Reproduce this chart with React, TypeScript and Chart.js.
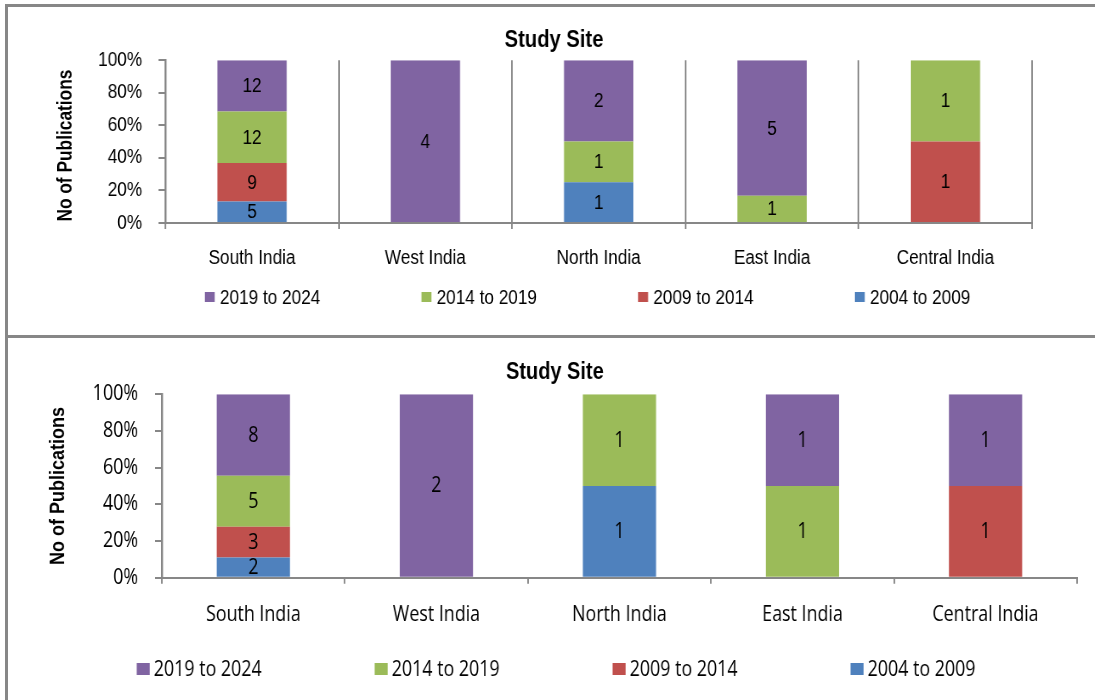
import React, { useEffect, useRef } from 'react';
import { Chart, registerables } from 'chart.js';

Chart.register(...registerables);

// Categories and series
const regions = ['South India', 'West India', 'North India', 'East India', 'Central India'];
const periods = ['2004 to 2009', '2009 to 2014', '2014 to 2019', '2019 to 2024'];
const periodColors = ['#4F81BD', '#C0504D', '#9BBB59', '#8064A2'];
const percentTicks = [0, 20, 40, 60, 80, 100];
const chartTitle = 'Study Site';
const axisTitle = 'No of Publications';

// Upper panel: publication counts per region
const upper2004to2009 = [5, 0, 1, 0, 0];
const upper2009to2014 = [9, 0, 0, 0, 1];
const upper2014to2019 = [12, 0, 1, 1, 1];
const upper2019to2024 = [12, 4, 2, 5, 0];

// Lower panel: publication counts per region
const lower2004to2009 = [2, 0, 1, 0, 0];
const lower2009to2014 = [3, 0, 0, 0, 1];
const lower2014to2019 = [5, 0, 1, 1, 0];
const lower2019to2024 = [8, 2, 0, 1, 1];

type PanelStyle = {
  left: number;
  top: number;
  cssWidth: number;
  cssHeight: number;
  squeeze: number;
  family: string;
  size: number;
  titleSize: number;
  padLeft: number;
  padRight: number;
  padBottom: number;
  yWidth: number;
  titlePadTop: number;
  titlePadBottom: number;
  xTickPad: number;
  yTickPad: number;
  verticalGrid: boolean;
  captionX: number;
  captionDy: number;
  captionSize: number;
  captionLength: number;
  legendX: number;
  legendY: number;
  swatchW: number;
  swatchH: number;
  swatchGap: number;
  legendPitch: number;
};

const boldFamily = '"Liberation Sans", Arial, sans-serif';
const lineGray = '#878787';

const upperStyle: PanelStyle = {
  left: 8,
  top: 7,
  cssWidth: 1092,
  cssHeight: 328,
  squeeze: 0.86,
  family: '"Liberation Sans", Arial, sans-serif',
  size: 20,
  titleSize: 23.5,
  padLeft: 79,
  padRight: 79,
  padBottom: 48,
  yWidth: 104,
  titlePadTop: 19,
  titlePadBottom: 6,
  xTickPad: 17,
  yTickPad: 19,
  verticalGrid: true,
  captionX: 67,
  captionDy: 4,
  captionSize: 21,
  captionLength: 152,
  legendX: 674,
  legendY: 290,
  swatchW: 11.6,
  swatchH: 10,
  swatchGap: 6,
  legendPitch: 252,
};

const lowerStyle: PanelStyle = {
  left: 8,
  top: 338,
  cssWidth: 1092,
  cssHeight: 362,
  squeeze: 0.85,
  family: '"Open Sans", "Noto Sans", sans-serif',
  size: 21,
  titleSize: 23.5,
  padLeft: 29,
  padRight: 27,
  padBottom: 53,
  yWidth: 152,
  titlePadTop: 20,
  titlePadBottom: 8,
  xTickPad: 19,
  yTickPad: 20,
  verticalGrid: false,
  captionX: 59,
  captionDy: 0,
  captionSize: 21,
  captionLength: 158,
  legendX: 645,
  legendY: 331,
  swatchW: 15.3,
  swatchH: 12,
  swatchGap: 4.7,
  legendPitch: 280,
};

// Writes each segment's count in the middle of its bar piece
const countLabels = {
  id: 'countLabels',
  afterDatasetsDraw(chart: any, _args: any, opts: any) {
    const ctx = chart.ctx;
    ctx.save();
    ctx.font = `${opts.size}px ${opts.family}`;
    ctx.fillStyle = '#000';
    ctx.textAlign = 'center';
    ctx.textBaseline = 'middle';
    chart.data.datasets.forEach((ds: any, i: number) => {
      const meta = chart.getDatasetMeta(i);
      meta.data.forEach((bar: any, j: number) => {
        const n = ds.counts[j];
        if (!n) return;
        const { x, y, base } = bar.getProps(['x', 'y', 'base'], true);
        ctx.fillText(String(n), x, (y + base) / 2 + 1);
      });
    });
    ctx.restore();
  },
};

// Condensed bold caption running up the value axis
const axisCaption = {
  id: 'axisCaption',
  afterDraw(chart: any, _args: any, o: any) {
    const ctx = chart.ctx;
    const area = chart.chartArea;
    ctx.save();
    ctx.font = `bold ${o.size}px ${o.family}`;
    ctx.fillStyle = '#000';
    ctx.textAlign = 'center';
    ctx.textBaseline = 'middle';
    const natural = ctx.measureText(o.text).width;
    ctx.translate(o.x, (area.top + area.bottom) / 2 + o.dy);
    ctx.scale(1 / o.squeeze, 1);
    ctx.rotate(-Math.PI / 2);
    ctx.scale(o.length / natural, 1);
    ctx.fillText(o.text, 0, 0);
    ctx.restore();
  },
};

// Legend row, newest period first
const periodLegend = {
  id: 'periodLegend',
  afterDraw(chart: any, _args: any, o: any) {
    const ctx = chart.ctx;
    ctx.save();
    ctx.font = `${o.size}px ${o.family}`;
    const items = chart.data.datasets
      .map((d: any) => ({ text: d.label, color: d.backgroundColor }))
      .reverse();
    const last = items[items.length - 1];
    const lastW = o.swatchW + o.gap + ctx.measureText(last.text).width;
    const total = o.pitch * (items.length - 1) + lastW;
    let x = o.centerX - total / 2;
    ctx.textAlign = 'left';
    ctx.textBaseline = 'middle';
    items.forEach((it: any) => {
      ctx.fillStyle = it.color;
      ctx.fillRect(x, o.y - o.swatchH / 2, o.swatchW, o.swatchH);
      ctx.fillStyle = '#000';
      ctx.fillText(it.text, x + o.swatchW + o.gap, o.y + 1);
      x += o.pitch;
    });
    ctx.restore();
  },
};

function StackedPanel({ counts, s }: { counts: number[][]; s: PanelStyle }) {
  const ref = useRef<HTMLCanvasElement>(null);
  const innerWidth = Math.round(s.cssWidth / s.squeeze);

  useEffect(() => {
    const canvas = ref.current;
    if (!canvas) return;
    const totals = regions.map((_, j) => counts.reduce((a, row) => a + row[j], 0));
    const tickFont = { family: s.family, size: s.size };

    const chart = new Chart(canvas, {
      type: 'bar',
      data: {
        labels: regions,
        datasets: periods.map((p, i) => ({
          label: p,
          counts: counts[i],
          data: counts[i].map((n, j) => (n / totals[j]) * 100),
          backgroundColor: periodColors[i],
          borderWidth: 0,
          barPercentage: 0.4,
          categoryPercentage: 1,
        })) as any,
      },
      options: {
        responsive: false,
        animation: false,
        devicePixelRatio: 1,
        layout: {
          padding: { left: s.padLeft, right: s.padRight, top: 0, bottom: s.padBottom },
        },
        plugins: {
          legend: { display: false },
          tooltip: { enabled: false },
          title: {
            display: true,
            text: chartTitle,
            color: '#000',
            font: { family: boldFamily, size: s.titleSize, weight: 'bold' },
            padding: { top: s.titlePadTop, bottom: s.titlePadBottom },
          },
          countLabels: { family: s.family, size: s.size },
          axisCaption: {
            text: axisTitle,
            family: boldFamily,
            size: s.captionSize,
            x: s.captionX,
            dy: s.captionDy,
            length: s.captionLength,
            squeeze: s.squeeze,
          },
          periodLegend: {
            family: s.family,
            size: s.size,
            centerX: s.legendX,
            y: s.legendY,
            swatchW: s.swatchW,
            swatchH: s.swatchH,
            gap: s.swatchGap,
            pitch: s.legendPitch,
          },
        } as any,
        scales: {
          x: {
            stacked: true,
            border: { display: true, color: lineGray, width: 2 },
            grid: {
              display: true,
              offset: true,
              drawOnChartArea: s.verticalGrid,
              drawTicks: true,
              tickLength: 6,
              color: '#8e8e8e',
              lineWidth: 2,
            },
            ticks: { color: '#000', font: tickFont, padding: s.xTickPad, maxRotation: 0 },
          },
          y: {
            stacked: true,
            min: 0,
            max: 100,
            afterFit: (sc: any) => {
              sc.width = s.yWidth;
            },
            afterBuildTicks: (sc: any) => {
              sc.ticks = percentTicks.map((v) => ({ value: v }));
            },
            border: { display: true, color: lineGray, width: 2.4 },
            grid: {
              drawOnChartArea: false,
              drawTicks: true,
              tickLength: 8,
              color: lineGray,
              lineWidth: 2,
            },
            ticks: {
              color: '#000',
              font: tickFont,
              padding: s.yTickPad,
              callback: (v: any) => `${v}%`,
            },
          },
        },
      },
      plugins: [countLabels, axisCaption, periodLegend],
    });
    return () => chart.destroy();
  }, []);

  return (
    <canvas
      ref={ref}
      width={innerWidth}
      height={s.cssHeight}
      style={{
        position: 'absolute',
        left: s.left,
        top: s.top,
        width: `${s.cssWidth}px`,
        height: `${s.cssHeight}px`,
      }}
    />
  );
}

export default function App() {
  const upper = [upper2004to2009, upper2009to2014, upper2014to2019, upper2019to2024];
  const lower = [lower2004to2009, lower2009to2014, lower2014to2019, lower2019to2024];
  return (
    <div
      style={{
        position: 'fixed',
        left: 0,
        top: 0,
        width: 1095,
        height: 700,
        overflow: 'hidden',
        background: '#fff',
      }}
    >
      <div
        style={{
          position: 'absolute',
          left: 5,
          top: 4,
          width: 1200,
          height: 800,
          border: `3px solid ${lineGray}`,
          boxSizing: 'border-box',
        }}
      />
      <div
        style={{
          position: 'absolute',
          left: 5,
          top: 335,
          width: 1200,
          height: 3,
          background: lineGray,
        }}
      />
      <StackedPanel counts={upper} s={upperStyle} />
      <StackedPanel counts={lower} s={lowerStyle} />
    </div>
  );
}
